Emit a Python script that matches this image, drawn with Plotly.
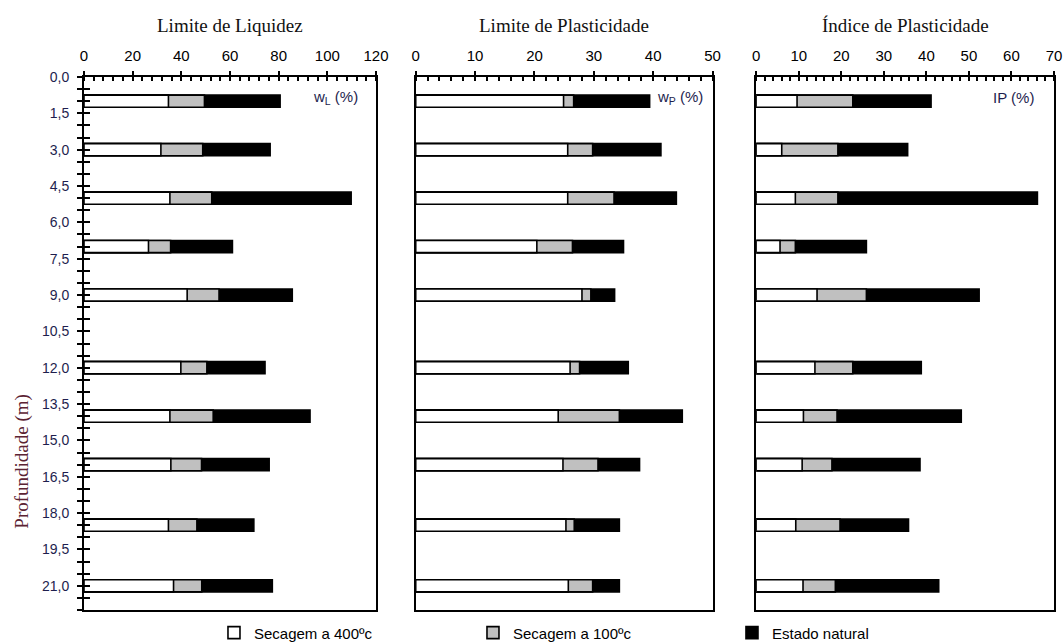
import plotly.graph_objects as go

# ---------------- data ----------------
depth = [1.0, 3.0, 5.0, 7.0, 9.0, 12.0, 14.0, 16.0, 18.5, 21.0]

LL_400 = [34.7, 31.6, 35.3, 26.5, 42.4, 39.8, 35.3, 35.7, 34.7, 36.8]
LL_100 = [49.5, 48.8, 52.5, 35.6, 55.5, 50.5, 53.1, 48.3, 46.4, 48.4]
LL_nat = [80.6, 76.5, 109.8, 61.0, 85.6, 74.4, 92.9, 76.1, 69.8, 77.4]

LP_400 = [24.9, 25.6, 25.6, 20.4, 28.0, 26.0, 24.0, 24.8, 25.3, 25.7]
LP_100 = [26.6, 29.8, 33.4, 26.4, 29.5, 27.6, 34.3, 30.7, 26.7, 29.8]
LP_nat = [39.4, 41.3, 43.9, 35.0, 33.5, 35.8, 44.9, 37.7, 34.3, 34.3]

IP_400 = [9.6, 6.0, 9.2, 5.6, 14.3, 13.8, 11.1, 10.8, 9.3, 11.0]
IP_100 = [22.7, 19.2, 19.2, 9.2, 25.9, 22.7, 19.0, 17.8, 19.7, 18.6]
IP_nat = [41.1, 35.6, 66.1, 25.9, 52.4, 38.8, 48.2, 38.5, 35.8, 42.9]

series_names = ["Estado natural", "Secagem a 100ºc", "Secagem a 400ºc"]
series_colors = ["#000000", "#c0c0c0", "#ffffff"]

panel_titles = ["Limite de Liquidez", "Limite de Plasticidade", "Índice de Plasticidade"]
panel_units = ["w<sub>L</sub> (%)", "w<sub>P</sub> (%)", "IP (%)"]
x_ranges = [[0, 120], [0, 50], [0, 70]]
x_dticks = [20, 10, 10]
y_title = "Profundidade (m)"

panels = [
    [LL_nat, LL_100, LL_400],
    [LP_nat, LP_100, LP_400],
    [IP_nat, IP_100, IP_400],
]

# ---------------- figure ----------------
SANS = "Liberation Sans, Arial, sans-serif"
SERIF = "Liberation Serif, Times New Roman, serif"
NAVY = "#1e1e4e"

domains = [[0.0, 0.301], [0.342, 0.648], [0.693, 1.0]]

fig = go.Figure()

for p, vals in enumerate(panels):
    xa = "x" if p == 0 else f"x{p+1}"
    ya = "y" if p == 0 else f"y{p+1}"
    for s, v in enumerate(vals):
        fig.add_trace(go.Bar(
            x=v, y=depth, orientation="h", width=0.5,
            name=series_names[s], legendgroup=series_names[s],
            showlegend=(p == 0),
            marker=dict(color=series_colors[s], line=dict(color="#000000", width=1.6)),
            opacity=1, xaxis=xa, yaxis=ya,
        ))

# dummy traces so that overlay (tick-only) axes get drawn
fig.add_trace(go.Scatter(x=[None], y=[None], xaxis="x", yaxis="y4", showlegend=False, hoverinfo="skip"))
for p in range(3):
    fig.add_trace(go.Scatter(x=[None], y=[None], xaxis=f"x{p+4}",
                             yaxis="y" if p == 0 else f"y{p+1}",
                             showlegend=False, hoverinfo="skip"))

layout = dict(
    width=1063, height=644,
    margin=dict(l=84, r=9, t=77, b=34, autoexpand=False),
    plot_bgcolor="white", paper_bgcolor="white",
    separators=",.",
    barmode="overlay",
    font=dict(family=SANS, size=14, color="#000000"),
    legend=dict(orientation="h", x=0.134, y=-0.043, xanchor="left", yanchor="middle",
                entrywidth=214, entrywidthmode="pixels", traceorder="reversed",
                font=dict(family=SANS, size=15, color="#000000"),
                bgcolor="rgba(0,0,0,0)", itemclick=False),
)

for p in range(3):
    xk = "xaxis" if p == 0 else f"xaxis{p+1}"
    yk = "yaxis" if p == 0 else f"yaxis{p+1}"
    ya = "y" if p == 0 else f"y{p+1}"
    xa = "x" if p == 0 else f"x{p+1}"
    layout[xk] = dict(
        domain=domains[p], range=x_ranges[p], side="top", anchor=ya,
        dtick=x_dticks[p], tick0=0, ticks="outside", ticklen=4, tickwidth=2,
        tickcolor="#000000", showline=True, linecolor="#000000", linewidth=2,
        mirror=True, showgrid=False, zeroline=False, ticklabelstandoff=4,
        tickfont=dict(family=SANS, size=15, color="#000000"),
        minor=dict(dtick=x_dticks[p] / 5, tick0=0, ticks="inside", ticklen=4,
                   tickwidth=1.5, tickcolor="#000000", showgrid=False),
        fixedrange=True,
    )
    # overlay axis to make major x ticks cross the axis line
    layout[f"xaxis{p+4}"] = dict(
        overlaying=xa, range=x_ranges[p], side="top", anchor=ya,
        dtick=x_dticks[p], tick0=0, ticks="inside", ticklen=4, tickwidth=2,
        tickcolor="#000000", showticklabels=False, showline=False,
        showgrid=False, zeroline=False, fixedrange=True,
    )
    ydict = dict(
        domain=[0, 1], range=[22, 0], anchor=xa,
        showline=True, linecolor="#000000", linewidth=2, mirror=True,
        showgrid=False, zeroline=False, fixedrange=True,
    )
    if p == 0:
        ydict.update(dict(
            dtick=1.5, tick0=0, tickformat=".1f", ticks="outside", ticklen=5,
            tickwidth=2, tickcolor="#000000", ticklabelstandoff=5,
            tickfont=dict(family=SANS, size=14, color=NAVY),
            minor=dict(dtick=0.5, tick0=0, ticks="outside", ticklen=5, tickwidth=2,
                       tickcolor="#000000", showgrid=False),
        ))
    else:
        ydict.update(dict(showticklabels=False, ticks=""))
    layout[yk] = ydict

layout["yaxis4"] = dict(
    overlaying="y", range=[22, 0], anchor="x", side="left",
    dtick=0.5, tick0=0, ticks="inside", ticklen=6, tickwidth=2,
    tickcolor="#000000", showticklabels=False, showline=False,
    showgrid=False, zeroline=False, fixedrange=True,
)

fig.update_layout(**layout)

annotations = []
unit_x = [0.945, 0.973, 0.94]
for p in range(3):
    annotations.append(dict(
        text=panel_titles[p], xref="paper", yref="paper",
        x=(domains[p][0] + domains[p][1]) / 2, y=1.097,
        xanchor="center", yanchor="middle", showarrow=False,
        font=dict(family=SERIF, size=19, color="#111111"),
    ))
    xd = "x domain" if p == 0 else f"x{p+1} domain"
    yd = "y domain" if p == 0 else f"y{p+1} domain"
    annotations.append(dict(
        text=panel_units[p], xref=xd, yref=yd, x=unit_x[p], y=0.961,
        xanchor="right", yanchor="middle", showarrow=False,
        font=dict(family=SANS, size=15, color=NAVY),
    ))
annotations.append(dict(
    text=y_title, xref="paper", yref="paper", x=-0.064, y=0.28,
    xanchor="center", yanchor="middle", textangle=-90, showarrow=False,
    font=dict(family=SERIF, size=19, color="#5b2333"),
))
fig.update_layout(annotations=annotations)

fig.write_html("out.html", config={"displayModeBar": False})
